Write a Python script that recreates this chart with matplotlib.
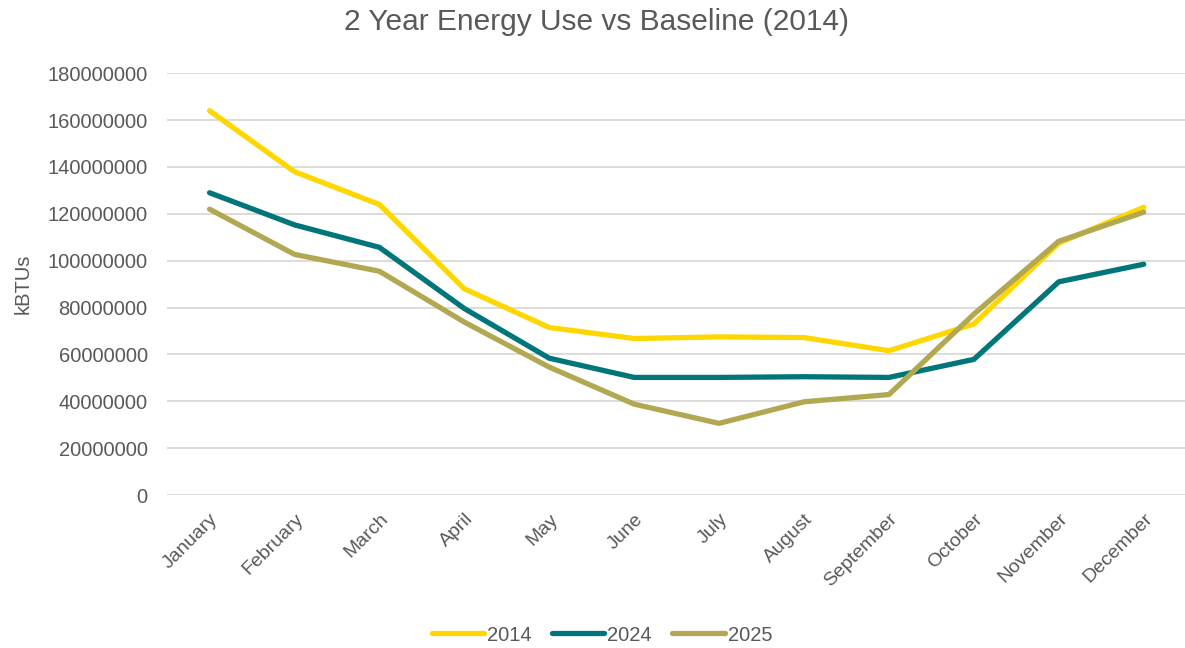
import matplotlib
matplotlib.use('Agg')
from matplotlib import pyplot as plt
from matplotlib.ticker import MultipleLocator, FuncFormatter

months = ['January', 'February', 'March', 'April', 'May', 'June', 'July',
          'August', 'September', 'October', 'November', 'December']
series_names = ['2014', '2024', '2025']
use_2014 = [164e6, 138e6, 124e6, 88e6, 71.5e6, 66.8e6, 67.5e6, 67.2e6, 61.6e6, 73e6, 107.5e6, 122.8e6]
use_2024 = [129e6, 115.3e6, 105.7e6, 79.6e6, 58.4e6, 50.2e6, 50.2e6, 50.5e6, 50.2e6, 57.9e6, 91e6, 98.5e6]
use_2025 = [122e6, 102.7e6, 95.5e6, 73.8e6, 54.6e6, 38.8e6, 30.6e6, 39.8e6, 42.9e6, 77.2e6, 108.3e6, 120.7e6]
colors = ['#FFD700', '#00757A', '#B2A851']

plt.rcParams['font.family'] = ['Liberation Sans', 'DejaVu Sans']
text_col = '#595959'

fig = plt.figure(figsize=(11.85, 6.48), dpi=100)
ax = fig.add_axes([0.141, 0.236, 0.86, 0.651])

x = range(len(months))
for vals, name, c in zip([use_2014, use_2024, use_2025], series_names, colors):
    ax.plot(x, vals, color=c, lw=3.8, label=name, solid_capstyle='round', solid_joinstyle='round')

ax.set_xlim(-0.5, len(months) - 0.5)
ax.set_ylim(0, 180e6)
ax.yaxis.set_major_locator(MultipleLocator(20e6))
ax.yaxis.set_major_formatter(FuncFormatter(lambda v, p: '%d' % v))
ax.grid(axis='y', color='#D9D9D9', lw=1.3)
ax.set_axisbelow(True)
for s in ax.spines.values():
    s.set_visible(False)

ax.set_xticks(list(x))
ax.set_xticklabels(months, rotation=45, ha='right', rotation_mode='anchor')
ax.tick_params(axis='both', length=0, labelsize=14.5, colors=text_col)
ax.tick_params(axis='x', labelsize=14, pad=11)
ax.tick_params(axis='y', pad=14)

ax.set_ylabel('kBTUs', fontsize=14.5, color=text_col)
ax.yaxis.set_label_coords(-0.132, 0.5)
fig.suptitle('2 Year Energy Use vs Baseline (2014)', fontsize=21.5, color=text_col, x=0.503, y=0.988)

fig.legend(loc='center', bbox_to_anchor=(0.508, 0.02), ncol=3, frameon=False,
           fontsize=14.5, labelcolor=text_col, handlelength=2.6, handletextpad=0.15,
           columnspacing=1.0)

fig.savefig('out.png', dpi=100)
